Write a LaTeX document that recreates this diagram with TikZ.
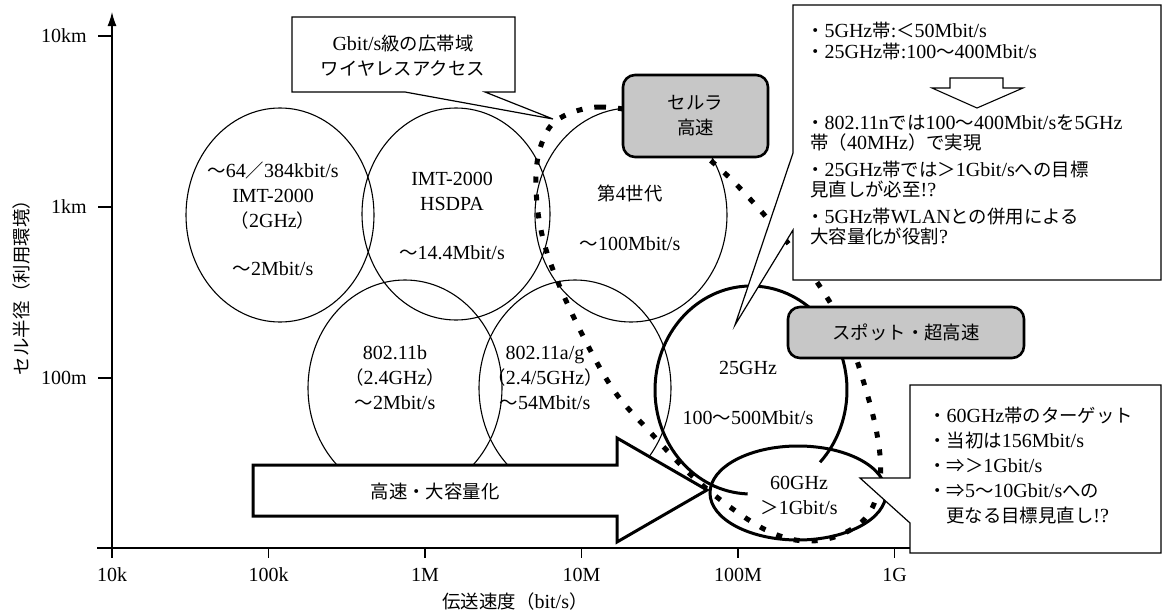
\documentclass[tikz,border=0pt]{standalone}
\usepackage{fontspec}
\setmainfont{Liberation Serif}
\newfontfamily\jpfont[Scale=0.92]{Noto Sans CJK JP}
\newcommand{\ja}[1]{{\jpfont #1}}
\usetikzlibrary{arrows.meta, calc}

\begin{document}
\begin{tikzpicture}[
		x=1pt, y=-1pt,
		font=\fontsize{20}{25}\selectfont,
		thinLine/.style={draw=black, line width=1.1pt},
		thickLine/.style={draw=black, line width=3pt},
		axisLine/.style={draw=black, line width=1.3pt},
		tickLabel/.style={inner sep=0pt},
		cellText/.style={align=center, inner sep=0pt},
		grayBox/.style={rectangle, rounded corners=12pt, draw=black, line width=2.6pt, fill=black!22, align=center, inner sep=0pt},
		calloutBox/.style={draw=black, line width=1.2pt, fill=white},
		noteText/.style={align=left, anchor=north west, inner sep=0pt},
		dotLoop/.style={draw=black, line width=5pt, dash pattern=on 6pt off 12pt}
		]
	\useasboundingbox (0,0) rectangle (1163,613);

	% Ejes
	\draw[axisLine] (97,548) -- (1000,548);
	\draw[axisLine, -{Latex[length=14pt, width=9pt]}] (112,548) -- (112,12);
	\foreach \y/\lab in {36/10km, 207/1km, 378/100m} {
		\draw[axisLine] (98,\y) -- (112,\y);
		\node[tickLabel, anchor=east] (ytick\lab) at (87,\y) {\lab};
	}
	\foreach \x/\lab in {112/10k, 268.5/100k, 425/1M, 581.5/10M, 738/100M, 894.5/1G} {
		\draw[axisLine] (\x,548) -- (\x,558);
		\node[tickLabel] (xtick\lab) at (\x,575) {\lab};
	}
	\node (xtitle) at (515,602) {\ja{伝送速度（}bit/s\ja{）}};
	\node[rotate=90] (ytitle) at (22,283) {\ja{セル半径（利用環境）}};

	% Elipses
	\draw[thinLine] (280,215) ellipse [x radius=94, y radius=107];
	\draw[thinLine] (456,214) ellipse [x radius=94, y radius=106];
	\draw[thinLine] (631,215) ellipse [x radius=96, y radius=107];
	\draw[thinLine] (405,388) ellipse [x radius=97, y radius=108];
	\draw[thinLine] (575,388) ellipse [x radius=96, y radius=108];

	\node[cellText] (imt) at (273,219) {\ja{〜}64\ja{／}384kbit/s\\IMT-2000\\\ja{（}2GHz\ja{）}\\[23pt]\ja{〜}2Mbit/s};
	\node[cellText] (hsdpa) at (452,216) {IMT-2000\\HSDPA\\[24pt]\ja{〜}14.4Mbit/s};
	\node[cellText] (gen4) at (630,218) {\ja{第}4\ja{世代}\\[25pt]\ja{〜}100Mbit/s};
	\node[cellText] (wlanB) at (395,378) {802.11b\\\ja{（}2.4GHz\ja{）}\\\ja{〜}2Mbit/s};
	\node[cellText] (wlanAG) at (545,378) {802.11a/g\\\ja{（}2.4/5GHz\ja{）}\\\ja{〜}54Mbit/s};

	% Flecha grande
	\draw[thickLine, fill=white] (253,465) -- (617,465) -- (617,438) -- (707,490) -- (617,542) -- (617,516) -- (253,516) -- cycle;
	\node (speed) at (435,492) {\ja{高速・大容量化}};

	% 25GHz y 60GHz
	\draw[thickLine] (751,390) ++(92:96 and 104) arc[start angle=92, end angle=404, x radius=96, y radius=104];
	\draw[thickLine] (798,493) ellipse [x radius=88, y radius=47];
	\node[cellText] (ghz25) at (748,393) {25GHz\\[25pt]100\ja{〜}500Mbit/s};
	\node[cellText] (ghz60) at (799,495) {60GHz\\\ja{＞}1Gbit/s};

	% Lazo punteado
	\draw[dotLoop] plot[smooth cycle, tension=0.6] coordinates {
		(560,118) (600,107) (650,118) (710,160) (760,210) (810,272) (845,330)
		(866,390) (878,440) (880,480) (868,515) (840,535) (805,541) (770,532)
		(730,507) (690,474) (650,432) (615,392) (585,340) (555,275) (540,225)
		(536,175) (543,140)};

	% Cajas grises
	\node[grayBox, minimum width=145pt, minimum height=82pt] (cellular) at (695.5,116) {\ja{セルラ}\\\ja{高速}};
	\node[grayBox, minimum width=236pt, minimum height=51pt] (spot) at (906,332.5) {\ja{スポット・超高速}};

	% Globos
	\draw[calloutBox] (292,17) -- (515,17) -- (515,92) -- (485,92) -- (553,119) -- (405,92) -- (292,92) -- cycle;
	\node[cellText] (gbitNote) at (403,55.5) {Gbit/s\ja{級の広帯域}\\\ja{ワイヤレスアクセス}};

	\draw[calloutBox] (793,5) -- (1161,5) -- (1161,280) -- (793,280) -- (793,230) -- (735,325) -- (793,153) -- cycle;
	\node[noteText, font=\fontsize{20}{21}\selectfont] (noteBand) at (806,22)
		{\ja{・}5GHz\ja{帯}:\ja{＜}50Mbit/s\\\ja{・}25GHz\ja{帯}:100\ja{〜}400Mbit/s};
	\draw[thinLine, fill=white] (950,78) -- (1003,78) -- (1003,88) -- (1023,88) -- (977,108) -- (932,88) -- (950,88) -- cycle;
	\node[noteText, font=\fontsize{20}{19.5}\selectfont] (noteGoal) at (806,115)
		{\ja{・}802.11n\ja{では}100\ja{〜}400Mbit/s\ja{を}5GHz\\
		\hspace*{4pt}\ja{帯（}40MHz\ja{）で実現}\\[8pt]
		\ja{・}25GHz\ja{帯では＞}1Gbit/s\ja{への目標}\\
		\hspace*{4pt}\ja{見直しが必至}!?\\[8pt]
		\ja{・}5GHz\ja{帯}WLAN\ja{との併用による}\\
		\hspace*{4pt}\ja{大容量化が役割}?};

	\draw[calloutBox] (910,385) -- (1161,385) -- (1161,553) -- (910,553) -- (910,523) -- (860,478) -- (910,478) -- cycle;
	\node[noteText] (note60) at (928,407)
		{\ja{・}60GHz\ja{帯のターゲット}\\
		\ja{・当初は}156Mbit/s\\
		\ja{・⇒＞}1Gbit/s\\
		\ja{・⇒}5\ja{〜}10Gbit/s\ja{への}\\
		\hspace*{18pt}\ja{更なる目標見直し}!?};

\end{tikzpicture}
\end{document}
